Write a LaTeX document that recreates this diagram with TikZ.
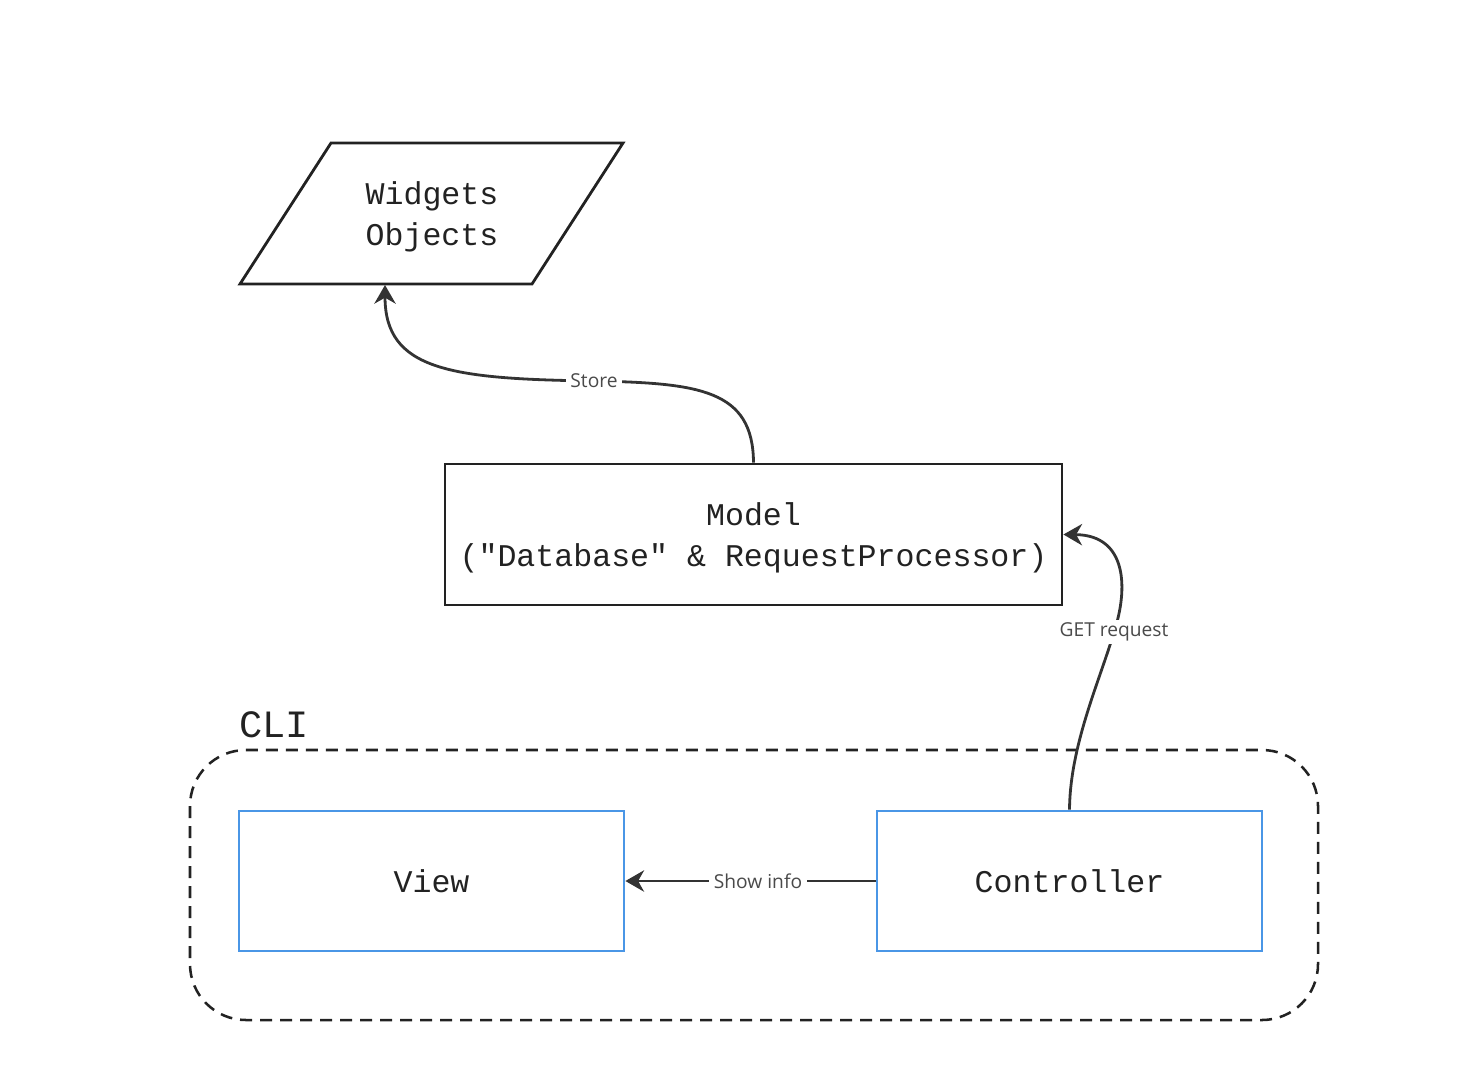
\documentclass[tikz,border=0pt]{standalone}
\usepackage{fontspec}
\setmainfont{Open Sans}
\setmonofont{Liberation Mono}
\usetikzlibrary{arrows.meta}
\definecolor{edge}{HTML}{333333}
\definecolor{ink}{HTML}{222222}
\definecolor{lbltxt}{HTML}{4A4A4A}
\definecolor{cliblue}{HTML}{4A96E6}
\tikzset{
  mono/.style={font=\ttfamily\fontsize{23.7}{30.75}\selectfont, text=ink, align=center},
  blackbox/.style={mono, draw=ink, line width=2.1pt, inner sep=0pt, minimum width=462.75pt, minimum height=105.75pt},
  bluebox/.style={mono, draw=cliblue, line width=2.1pt, inner sep=0pt, minimum width=288.75pt, minimum height=105pt},
  conn/.style={draw=edge, line width=2.1pt, -{Stealth[length=14pt, width=16pt, inset=4.5pt]}},
  lbl/.style={font=\fontsize{14.4}{17}\selectfont, text=lbltxt, fill=white, inner xsep=3.5pt, inner ysep=2pt},
}
\begin{document}
\begin{tikzpicture}[x=0.75pt, y=-0.75pt]
\useasboundingbox (0,0) rectangle (1458,1071);
% Widgets parallelogram
\coordinate (p1) at (331,143);
\coordinate (p2) at (623,143);
\coordinate (p3) at (532,284);
\coordinate (p4) at (240,284);
\draw[draw=ink, line width=2.1pt, line join=miter] (p1) -- (p2) -- (p3) -- (p4) -- cycle;
\node[mono] (widgets) at (432,217) {Widgets\\Objects};
\coordinate (wbot) at (385,285);
% Model
\node[blackbox] (model) at (753.5,534.5) {};
\node[mono] (modeltext) at (753.5,537.5) {Model\\("Database" \& RequestProcessor)};
% CLI container
\draw[draw=ink, line width=1.9pt, dash pattern=on 9pt off 6pt, rounded corners=42pt] (190,750) rectangle (1318,1020);
\node[font=\ttfamily\fontsize{29}{34}\selectfont, text=ink, anchor=base west, inner sep=0pt] (cli) at (239,737) {CLI};
% View and Controller
\node[bluebox] (view) at (431.5,881) {View};
\node[bluebox] (ctrl) at (1069.5,881) {Controller};
% Connectors
\draw[conn] (model.north) .. controls (753,390) and (700,383) .. (594,381)
  node[lbl] {Store}
  .. controls (450,379) and (385,370) .. (wbot);
\draw[conn] (ctrl.north) .. controls (1070,745) and (1100,680) .. (1114,632)
  node[lbl] {GET request}
  .. controls (1128,590) and (1128,535) .. (model.east);
\draw[conn] (ctrl.west) -- node[lbl, pos=0.47] {Show info} (view.east);
\end{tikzpicture}
\end{document}
